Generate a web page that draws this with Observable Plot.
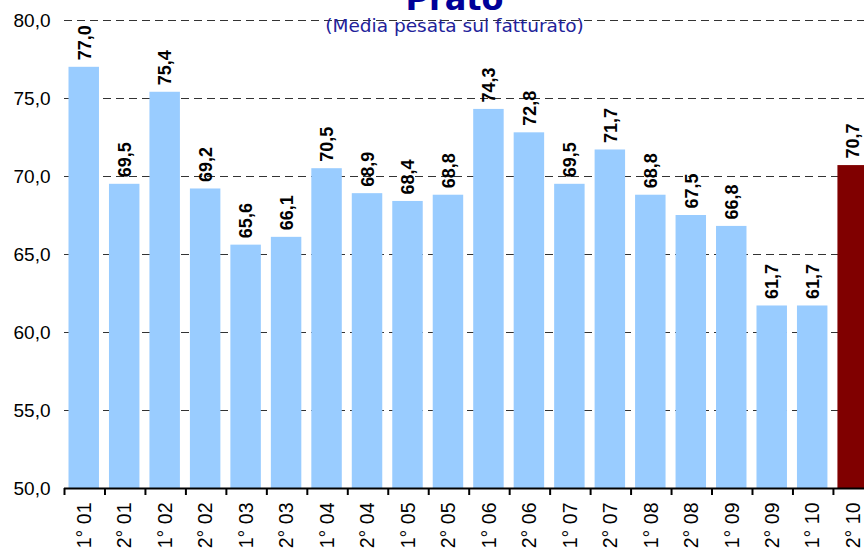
<!DOCTYPE html>
<html>
<head>
<meta charset="utf-8">
<script src="https://cdn.jsdelivr.net/npm/d3@7"></script>
<script src="https://cdn.jsdelivr.net/npm/@observablehq/plot@0.6"></script>
<style>
  html, body { margin: 0; padding: 0; background: white; overflow: hidden; }
  #chart svg { overflow: hidden; display: block; }
</style>
</head>
<body>
<div id="chart"></div>
<script>
const categories = ["1° 01","2° 01","1° 02","2° 02","1° 03","2° 03","1° 04","2° 04","1° 05","2° 05",
                    "1° 06","2° 06","1° 07","2° 07","1° 08","2° 08","1° 09","2° 09","1° 10","2° 10"];
const values = [77.0, 69.5, 75.4, 69.2, 65.6, 66.1, 70.5, 68.9, 68.4, 68.8,
                74.3, 72.8, 69.5, 71.7, 68.8, 67.5, 66.8, 61.7, 61.7, 70.7];
const highlight = "2° 10";
const yTicks = [50, 55, 60, 65, 70, 75, 80];
const title = "Prato";
const subtitle = "(Media pesata sul fatturato)";

const data = categories.map((c, i) => ({cat: c, v: values[i]}));
const fmt = d => d.toFixed(1).replace(".", ",");
const x0 = 64, x1 = 873.4;
const half = (x1 - x0) / categories.length / 2;

const chart = Plot.plot({
  width: 864,
  height: 549,
  marginTop: 20,
  marginBottom: 61,
  marginLeft: 64,
  marginRight: 0,
  x: {domain: categories, range: [x0, x1], padding: 0, round: false, label: null},
  y: {domain: [50, 80], range: [488, 20], label: null},
  style: {fontFamily: "Arial, 'Liberation Sans', sans-serif", background: "white", color: "black"},
  marks: [
    Plot.gridY(yTicks.filter(t => t > 50), {stroke: "#333", strokeOpacity: 1, strokeDasharray: "8,5"}),
    Plot.barY(data, {x: "cat", y1: 50, y2: "v",
      fill: d => d.cat === highlight ? "#800000" : "#99CCFF", insetLeft: 4.5, insetRight: 5.5}),
    Plot.text(data, {x: "cat", y: "v", text: d => fmt(d.v), rotate: -90, textAnchor: "start",
      dy: -7, fontWeight: "bold", fontSize: 18, fill: "black"}),
    Plot.ruleY([50], {stroke: "black", strokeWidth: 2}),
    Plot.axisY(yTicks, {tickSize: 0, tickPadding: 14, tickFormat: fmt, fontSize: 19, fill: "black"}),
    Plot.axisX({tickSize: 7, dx: -half, strokeWidth: 2, stroke: "black", tickFormat: () => "", label: null}),
    Plot.axisX({tickSize: 0, tickPadding: 14, tickRotate: -90, fontSize: 19.5, fill: "black", label: null}),
    Plot.text([title], {frameAnchor: "top", lineAnchor: "bottom", dx: -10, dy: -11,
      fontFamily: "'DejaVu Sans', Verdana, sans-serif", fontWeight: "bold", fontSize: 32, fill: "#000099"}),
    Plot.text([subtitle], {frameAnchor: "top", lineAnchor: "bottom", dx: -10, dy: 11,
      fontFamily: "'DejaVu Sans', Verdana, sans-serif", fontSize: 18.5, fill: "#22229a"})
  ]
});
document.getElementById("chart").appendChild(chart);
</script>
</body>
</html>
